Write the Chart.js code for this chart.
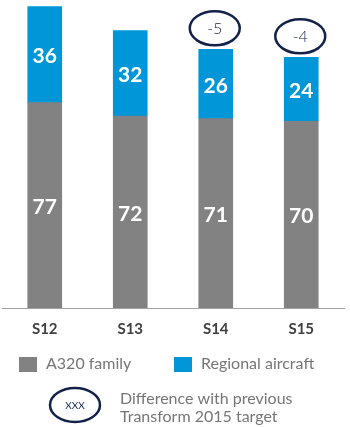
<!DOCTYPE html>
<html>
<head>
<meta charset="utf-8">
<script src="https://cdn.jsdelivr.net/npm/chart.js@4"></script>
<style>
  html, body { margin: 0; padding: 0; background: #fff; }
  #wrap { width: 350px; height: 427px; position: relative; }
</style>
</head>
<body>
<div id="wrap"><canvas id="chart"></canvas></div>
<script>
// --- Data ---
const seasons = ['S12', 'S13', 'S14', 'S15'];
const a320Family = [77, 72, 71, 70];
const regionalAircraft = [36, 32, 26, 24];
const diffTarget = [null, null, -5, -4];

const GRAY = '#828282';
const BLUE = '#0096d8';
const NAVY = '#14224a';
const FONT = 'Lato, "DejaVu Sans", sans-serif';

// values in the middle of each segment + target-difference ellipses + legend
const overlayPlugin = {
  id: 'overlay',
  afterDatasetsDraw(chart) {
    const ctx = chart.ctx;
    ctx.save();
    ctx.textAlign = 'center';
    ctx.textBaseline = 'middle';
    ctx.fillStyle = '#fff';
    ctx.font = 'bold 21px ' + FONT;
    chart.data.datasets.forEach((ds, i) => {
      chart.getDatasetMeta(i).data.forEach((bar, j) => {
        const y = (bar.y + bar.base) / 2;
        ctx.fillText(ds.data[j], bar.x, y + 2);
      });
    });

    // ellipses above bars
    const yScale = chart.scales.y;
    const topMeta = chart.getDatasetMeta(1);
    diffTarget.forEach((d, j) => {
      if (d === null) return;
      const bar = topMeta.data[j];
      const total = a320Family[j] + regionalAircraft[j];
      const cy = yScale.getPixelForValue(total) - 21;
      ctx.beginPath();
      ctx.ellipse(bar.x - 1, cy, 25, 17, 0, 0, Math.PI * 2);
      ctx.lineWidth = 2.5;
      ctx.strokeStyle = NAVY;
      ctx.stroke();
      ctx.fillStyle = NAVY;
      ctx.font = '300 16px ' + FONT;
      ctx.fillText(String(d), bar.x - 1, cy + 1);
    });

    // legend
    ctx.textAlign = 'left';
    ctx.font = '16px ' + FONT;
    ctx.fillStyle = GRAY;
    ctx.fillRect(19, 357, 18, 15);
    ctx.fillStyle = BLUE;
    ctx.fillRect(174, 357, 18, 15);
    ctx.fillStyle = '#767676';
    ctx.fillText('A320 family', 46, 364);
    ctx.fillText('Regional aircraft', 201, 364);

    ctx.beginPath();
    ctx.ellipse(75, 405, 25, 17, 0, 0, Math.PI * 2);
    ctx.lineWidth = 2.5;
    ctx.strokeStyle = NAVY;
    ctx.stroke();
    ctx.fillStyle = NAVY;
    ctx.textAlign = 'center';
    ctx.font = '10px ' + FONT;
    ctx.fillText('XXX', 75, 406);
    ctx.textAlign = 'left';
    ctx.font = '16px ' + FONT;
    ctx.fillStyle = '#767676';
    ctx.fillText('Difference with previous', 120, 399);
    ctx.fillText('Transform 2015 target', 120, 417);
    ctx.restore();
  }
};

new Chart(document.getElementById('chart'), {
  type: 'bar',
  data: {
    labels: seasons,
    datasets: [
      { label: 'A320 family', data: a320Family, backgroundColor: GRAY },
      { label: 'Regional aircraft', data: regionalAircraft, backgroundColor: BLUE }
    ]
  },
  options: {
    responsive: true,
    maintainAspectRatio: false,
    animation: false,
    layout: { padding: { left: 2, right: 6, top: 0, bottom: 0 } },
    datasets: { bar: { barThickness: 34 } },
    plugins: { legend: { display: false }, tooltip: { enabled: false } },
    scales: {
      x: {
        stacked: true,
        grid: { display: false, drawTicks: false },
        border: { display: true, color: '#a0a0a0', width: 1 },
        ticks: { color: '#404040', font: { family: FONT, size: 15, weight: 'bold' }, padding: 12 },
        afterFit: s => { s.height = 119; }
      },
      y: {
        stacked: true,
        display: false,
        min: 0,
        max: 115.5
      }
    }
  },
  plugins: [overlayPlugin]
});
</script>
</body>
</html>
